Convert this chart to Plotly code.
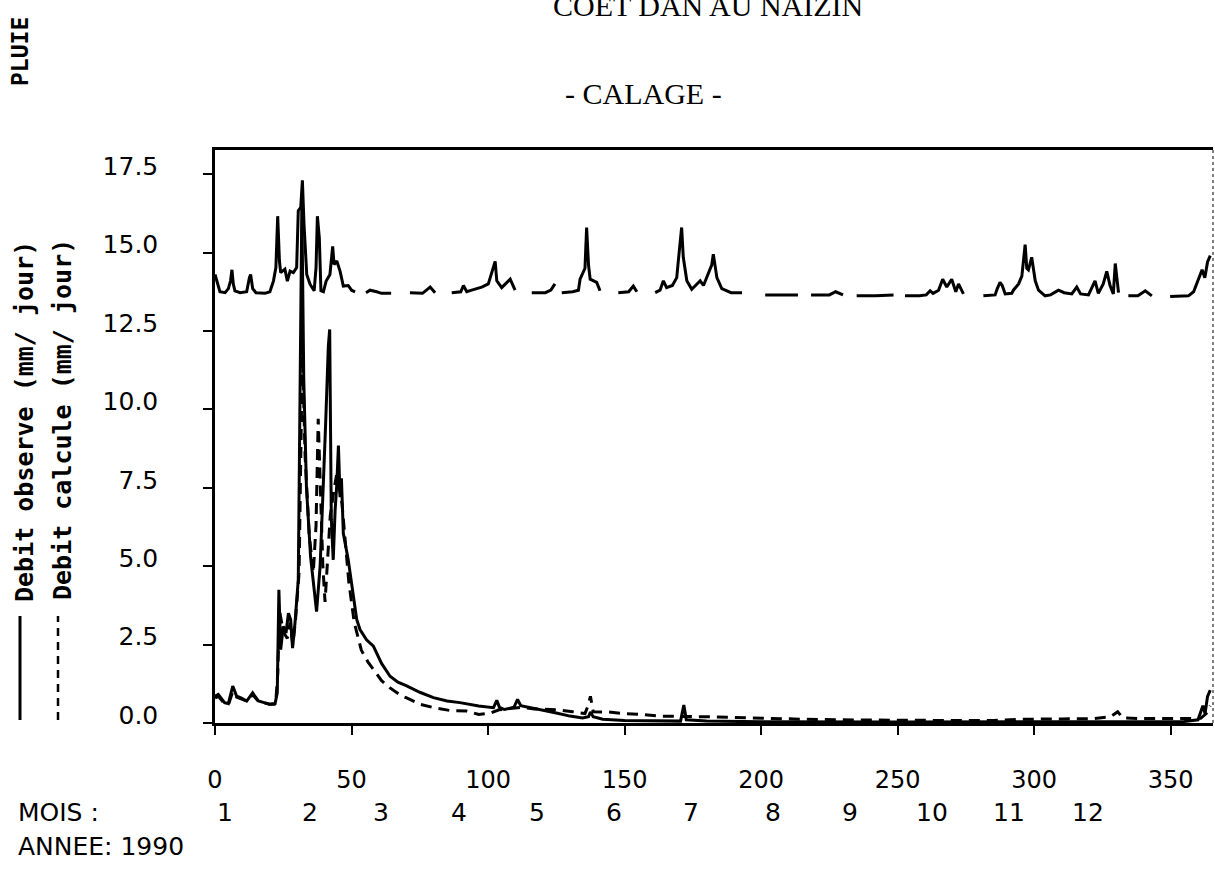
import plotly.graph_objects as go

# ---------------- data ----------------
# Rain trace, plotted as a level above the flows (None = break in the pen trace)
pluie_jour = [
    0, 0.9, 1.8, 3.7, 4.9, 5.7, 6.2, 6.7, 7.3, 9.2, 11.6, 12.6, 13.05, 13.8, 15, 18.3, 20.1, 21.4, 22.3, 22.96,
    23.6, 24.05, 25.6, 26.5, 27.5, 28.7, 29.9, 30.5, 31.4, 32.0, 32.6, 33.6, 34.8, 36.3, 37.0, 37.5, 38.2, 38.8,
    39.7, 40.7, 42.1, 43.1, 43.6, 44.6, 45.8, 47.0, 48.8, 50.0, 51.3, None,
    55.3, 56.8, 59.2, 61, 64.5, None,
    71.4, 76, 78.8, 80.6, None,
    86.7, 90.0, 91.0, 92.2, 94.0, 97.7, 100.1, 102.6, 103.2, 105.0, 108.1, 109.9, None,
    116, 121, 123, 124.5, None,
    127, 131, 133.1, 133.7, 135.5, 136.1, 136.8, 137.4, 139.8, 141, None,
    147.7, 151.5, 153.2, 154.5, None,
    161.2, 163, 164.2, 165.4, 167.5, 169.1, 169.7, 170.9, 171.5, 172.8, 174.6, 177.7, 178.9, 181.9, 182.5,
    183.8, 185.6, 189, 193, None,
    201.5, 207, 213.5, None,
    218.3, 225, 227.3, 230, None,
    235, 242, 248.5, None,
    252.7, 258, 260.5, 261.9, 263, 265, 266.5, 268, 269.8, 271.3, 272.3, 274.1, None,
    281.4, 285.7, 286.5, 287.5, 288.3, 289.4, 291.8, 292.4, 294.3, 295.5, 296.7, 297.3, 297.9, 299.1, 300.4,
    301.6, 304, 306, 308.9, 311, 313.8, 315.6, 317, 319.9, 322.3, 323.5, 325.3, 326.6, 327.8, 329, 329.7,
    330.9, None,
    334.5, 338, 340.7, 343.1, None,
    349.8, 354, 356.5, 358.4, 359.6, 361.5, 362.5, 363.5, 364.5,
]
pluie_niveau = [
    14.3, 14.0, 13.75, 13.72, 13.85, 14.1, 14.45, 14.0, 13.78, 13.72, 13.75, 14.2, 14.3, 13.85, 13.72, 13.7,
    13.75, 14.09, 14.52, 16.16, 14.73, 14.36, 14.47, 14.09, 14.41, 14.36, 14.52, 16.33, 16.44, 17.3, 15.9,
    14.3, 13.99, 13.78, 14.52, 16.16, 15.47, 13.78, 13.75, 14.09, 14.3, 15.2, 14.62, 14.73, 14.41, 13.93,
    13.95, 13.8, 13.75, None,
    13.72, 13.8, 13.75, 13.7, 13.7, None,
    13.72, 13.7, 13.9, 13.72, None,
    13.72, 13.75, 13.95, 13.75, 13.8, 13.9, 14.0, 14.72, 14.1, 13.88, 14.15, 13.8, None,
    13.72, 13.72, 13.8, 14.0, None,
    13.72, 13.75, 13.8, 14.15, 14.5, 15.8, 14.6, 14.15, 14.05, 13.78, None,
    13.72, 13.75, 13.93, 13.75, None,
    13.72, 13.8, 14.1, 13.88, 13.95, 14.2, 14.75, 15.8, 14.85, 14.1, 13.83, 14.1, 13.95, 14.6, 14.95,
    14.2, 13.85, 13.72, 13.72, None,
    13.65, 13.65, 13.65, None,
    13.65, 13.65, 13.75, 13.65, None,
    13.62, 13.62, 13.65, None,
    13.62, 13.62, 13.65, 13.78, 13.7, 13.8, 14.15, 13.9, 14.15, 13.75, 14.0, 13.68, None,
    13.62, 13.65, 13.85, 14.05, 13.95, 13.68, 13.7, 13.8, 14.0, 14.25, 15.25, 14.5, 14.45, 14.85, 14.1,
    13.8, 13.62, 13.65, 13.8, 13.72, 13.68, 13.9, 13.68, 13.65, 14.1, 13.7, 14.0, 14.4, 13.95, 13.68, 14.65,
    13.72, None,
    13.62, 13.62, 13.78, 13.62, None,
    13.6, 13.6, 13.62, 13.75, 14.0, 14.45, 14.2, 14.7, 14.9,
]

# Observed discharge (mm/jour)
obs_jour = [
    0, 1.2, 3.5, 4.9, 6.5, 7.9, 9.5, 11.6, 13.8, 15.9, 18, 20, 22, 22.8, 23.4, 24.05, 25, 26, 26.9, 27.7,
    28.4, 29.3, 30.5, 31.8, 32.5, 33.5, 35, 36.2, 37.2, 38.5, 39.5, 40.5, 41.5, 42.0, 42.6, 43.3, 44.0, 44.6,
    45.2, 45.8, 46.3, 47.0, 48.8, 50.7, 51.9, 53.1, 55.5, 58, 61, 64.1, 67, 70.2, 75, 80, 85, 89.7, 96.6, 102,
    103.2, 104.2, 106, 109.5, 110.8, 112, 117.5, 125, 130, 134.6, 136.8, 137.5, 138.5, 142, 150, 160, 170.5,
    171.7, 172.6, 180, 200, 250, 300, 340, 355, 360, 361.8, 362.6, 363.5, 364.5,
]
obs_debit = [
    0.85, 0.91, 0.65, 0.62, 1.18, 0.86, 0.8, 0.7, 0.96, 0.7, 0.65, 0.6, 0.62, 0.96, 4.25, 2.34, 3.08, 2.87,
    3.5, 3.3, 2.39, 3.19, 4.57, 16.5, 11.0, 7.5, 5.3, 4.3, 3.55, 5.0, 7.0, 9.5, 12.0, 12.55, 6.5, 5.2, 6.8,
    7.6, 8.85, 7.2, 7.8, 6.05, 5.2, 3.93, 3.3, 2.98, 2.65, 2.45, 1.9, 1.49, 1.3, 1.18, 0.98, 0.81, 0.7, 0.65,
    0.54, 0.49, 0.72, 0.5, 0.43, 0.5, 0.75, 0.55, 0.46, 0.32, 0.22, 0.16, 0.2, 0.35, 0.2, 0.12, 0.08, 0.06,
    0.06, 0.57, 0.1, 0.06, 0.04, 0.03, 0.03, 0.04, 0.05, 0.1, 0.55, 0.3, 0.85, 1.05,
]

# Computed discharge (mm/jour)
calc_jour = [
    0, 1.2, 3.5, 5, 6.5, 8, 11.6, 13.8, 16, 20, 22.2, 23.0, 23.6, 25, 26.5, 27.5, 28.5, 29.5, 30.8, 32.0,
    33.0, 34.5, 36.0, 37.0, 37.8, 38.6, 39.5, 40.3, 41.2, 42.2, 43.5, 44.5, 45.3, 46.5, 47.5, 49, 51, 53.6,
    56, 58, 61, 64.1, 68, 70.2, 75, 80, 86, 92.2, 96.6, 100.7, 104, 108, 112, 117, 125, 131, 135.5, 136.6,
    137.5, 138.5, 144, 150, 157, 163, 172, 180, 190, 200, 215, 230, 250, 270, 285, 295, 310, 322, 328, 330.6,
    332.5, 340, 350, 358, 361, 363, 364.5,
]
calc_debit = [
    0.8, 0.85, 0.62, 0.6, 1.0, 0.82, 0.7, 0.9, 0.68, 0.6, 0.6, 1.6, 3.6, 2.9, 2.7, 3.2, 2.5, 3.3, 4.8, 12.0,
    8.5, 6.0, 4.8, 6.3, 9.7, 7.2, 5.0, 3.86, 5.0, 6.6, 7.4, 7.9, 7.6, 7.0, 6.0, 4.5, 3.2, 2.32, 1.95, 1.7,
    1.35, 1.12, 0.88, 0.8, 0.6, 0.49, 0.4, 0.38, 0.27, 0.31, 0.42, 0.46, 0.5, 0.45, 0.42, 0.36, 0.3, 0.55,
    0.85, 0.36, 0.35, 0.3, 0.27, 0.22, 0.22, 0.2, 0.18, 0.15, 0.12, 0.1, 0.08, 0.08, 0.08, 0.12, 0.13, 0.14,
    0.2, 0.36, 0.16, 0.14, 0.14, 0.15, 0.15, 0.3, 0.55,
]

x_ticks = [0, 50, 100, 150, 200, 250, 300, 350]
y_ticks = [0.0, 2.5, 5.0, 7.5, 10.0, 12.5, 15.0, 17.5]
mois_labels = ["1", "2", "3", "4", "5", "6", "7", "8", "9", "10", "11", "12"]

# ---------------- layout geometry ----------------
FIG_W, FIG_H = 1215, 869
L, R, T, B = 215, 1213, 150, 723
PW, PH = R - L, B - T
Y_TOP = 18.27
X_MAX = 365.5


def px_x(px):
    return (px - L) / PW


def px_y(py):
    return (B - py) / PH


mois_px = [225, 310, 381, 459, 537, 614, 691, 773, 850, 932, 1009, 1088]

fig = go.Figure()
fig.add_trace(go.Scatter(x=pluie_jour, y=pluie_niveau, mode="lines", connectgaps=False,
                         line=dict(color="black", width=3), hoverinfo="skip"))
fig.add_trace(go.Scatter(x=obs_jour, y=obs_debit, mode="lines",
                         line=dict(color="black", width=3), name="Debit observe"))
fig.add_trace(go.Scatter(x=calc_jour, y=calc_debit, mode="lines",
                         line=dict(color="black", width=3, dash="11px,7px"), name="Debit calcule"))

mono = "DejaVu Sans Mono"
sans = "DejaVu Sans"
serif = "Liberation Serif"

fig.update_layout(
    width=FIG_W, height=FIG_H,
    margin=dict(l=L, r=FIG_W - R, t=T, b=FIG_H - B, pad=0),
    paper_bgcolor="white", plot_bgcolor="white",
    showlegend=False,
    xaxis=dict(range=[0, X_MAX], tickvals=x_ticks, ticktext=[str(v) for v in x_ticks],
               ticks="outside", ticklen=9, tickwidth=2, tickcolor="black",
               showline=True, linewidth=2.5, linecolor="black", mirror=True,
               showgrid=False, zeroline=False,
               tickfont=dict(family=sans, size=24, color="black"),
               ticklabelstandoff=24),
    yaxis=dict(range=[0, Y_TOP], tickvals=y_ticks, ticktext=[f"{v:.1f}" for v in y_ticks],
               ticks="outside", ticklen=9, tickwidth=2, tickcolor="black",
               showline=True, linewidth=2.5, linecolor="black",
               showgrid=False, zeroline=False,
               tickfont=dict(family=sans, size=25, color="black"),
               ticklabelstandoff=40, ticklabelshift=-8),
)

# right border (faint dotted)
fig.add_shape(type="line", xref="paper", yref="paper", x0=1, x1=1, y0=0, y1=1,
              line=dict(color="#555555", width=1.5, dash="dot"))

# legend marks beside the rotated axis titles
fig.add_shape(type="line", xref="paper", yref="paper", x0=px_x(20), x1=px_x(20),
              y0=px_y(720), y1=px_y(616), line=dict(color="black", width=3))
fig.add_shape(type="line", xref="paper", yref="paper", x0=px_x(58), x1=px_x(58),
              y0=px_y(720), y1=px_y(616), line=dict(color="black", width=2.5, dash="8px,6px"))

ann = []
ann.append(dict(text="COET DAN AU NAIZIN", x=px_x(708), y=px_y(6), xref="paper", yref="paper",
                showarrow=False, xanchor="center", yanchor="middle",
                font=dict(family=serif, size=30, color="black")))
ann.append(dict(text="- CALAGE -", x=px_x(643), y=px_y(93), xref="paper", yref="paper",
                showarrow=False, xanchor="center", yanchor="middle",
                font=dict(family=serif, size=30, color="black")))
ann.append(dict(text="<b>PLUIE</b>", x=px_x(20), y=px_y(52), xref="paper", yref="paper",
                showarrow=False, xanchor="center", yanchor="middle", textangle=-90,
                font=dict(family=mono, size=23, color="black")))
ann.append(dict(text="<b>Debit observe (mm/ jour)</b>", x=px_x(24), y=px_y(422), xref="paper", yref="paper",
                showarrow=False, xanchor="center", yanchor="middle", textangle=-90,
                font=dict(family=mono, size=25, color="black")))
ann.append(dict(text="<b>Debit calcule (mm/ jour)</b>", x=px_x(62), y=px_y(420), xref="paper", yref="paper",
                showarrow=False, xanchor="center", yanchor="middle", textangle=-90,
                font=dict(family=mono, size=25, color="black")))
ann.append(dict(text="MOIS :", x=px_x(16), y=px_y(812), xref="paper", yref="paper",
                showarrow=False, xanchor="left", yanchor="middle",
                font=dict(family=sans, size=25, color="black")))
ann.append(dict(text="ANNEE: 1990", x=px_x(16), y=px_y(846), xref="paper", yref="paper",
                showarrow=False, xanchor="left", yanchor="middle",
                font=dict(family=sans, size=25, color="black")))
for lab, p in zip(mois_labels, mois_px):
    ann.append(dict(text=lab, x=px_x(p), y=px_y(812), xref="paper", yref="paper",
                    showarrow=False, xanchor="center", yanchor="middle",
                    font=dict(family=sans, size=25, color="black")))
fig.update_layout(annotations=ann)

fig.write_html("out.html", config={"displayModeBar": False},
               post_script="document.body.style.margin='0px';document.body.style.padding='0px';")
